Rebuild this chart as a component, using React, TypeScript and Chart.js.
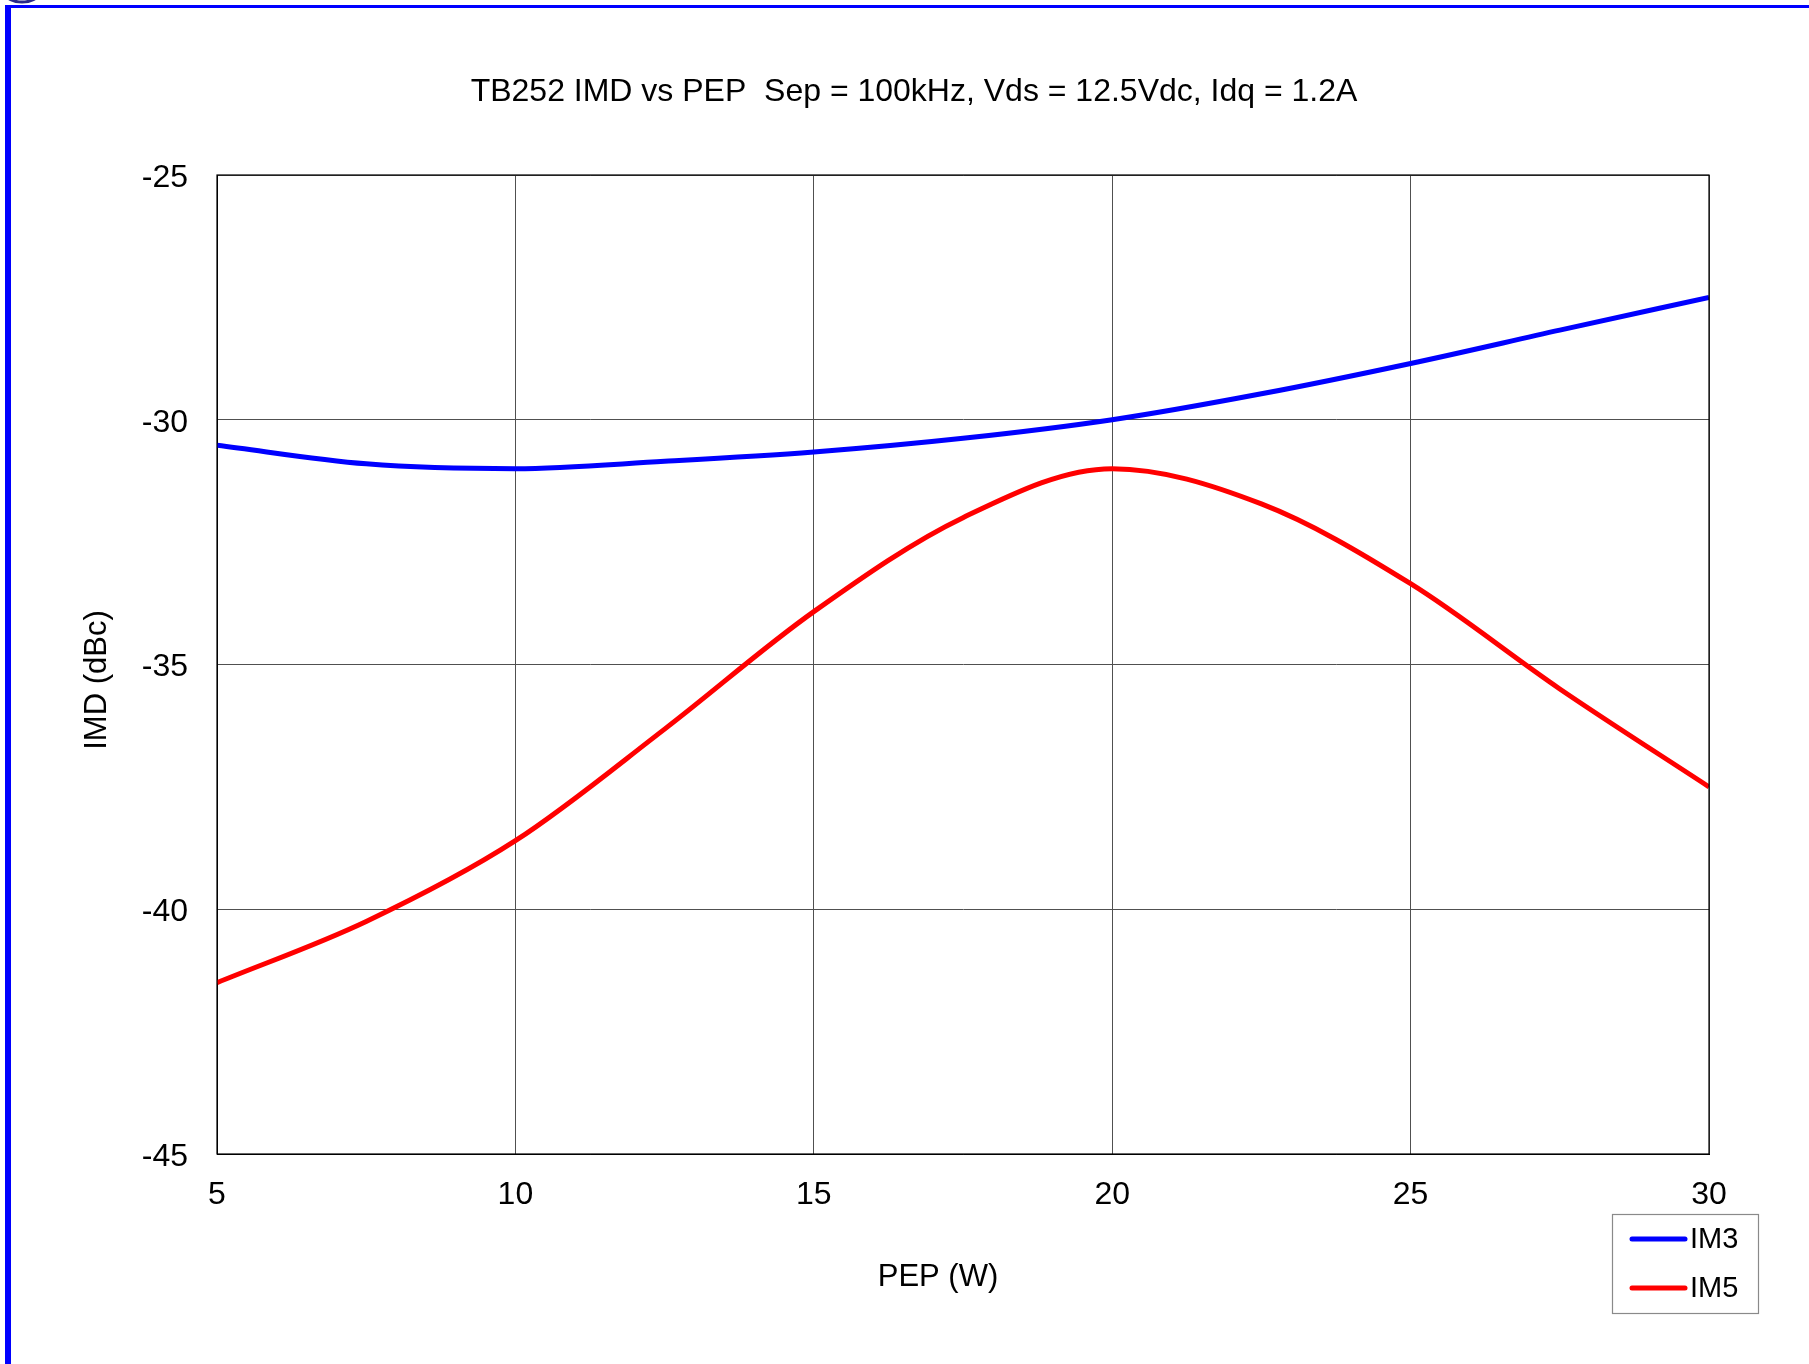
import React, { useEffect, useRef } from "react";
import { Chart, registerables } from "chart.js";

Chart.register(...registerables);

const TITLE = "TB252 IMD vs PEP  Sep = 100kHz, Vds = 12.5Vdc, Idq = 1.2A";
const X_TITLE = "PEP (W)";
const Y_TITLE = "IMD (dBc)";

const PEP = [5, 7.5, 10, 12.5, 15, 17.5, 20, 22.5, 25, 27.5, 30];
const IM3 = [-30.52, -30.9, -31.0, -30.85, -30.66, -30.38, -30.0, -29.47, -28.85, -28.17, -27.5];
const IM5 = [-41.5, -40.25, -38.6, -36.32, -33.92, -32.0, -31.0, -31.72, -33.35, -35.5, -37.5];

const SERIES_NAMES = ["IM3", "IM5"];
const SERIES_COLORS = ["#0000FF", "#FF0000"];

const X_MIN = 5;
const X_MAX = 30;
const X_STEP = 5;
const Y_MIN = -45;
const Y_MAX = -25;
const Y_STEP = 5;

const FONT = "'Liberation Sans', Arial, sans-serif";

const decorPlugin = {
  id: "decor",
  beforeDraw(chart: any) {
    const { ctx, width, height } = chart;
    ctx.save();
    ctx.fillStyle = "#ffffff";
    ctx.fillRect(0, 0, width, height);
    ctx.fillStyle = "#0000FF";
    ctx.fillRect(5, 5, width - 5, 3);
    ctx.fillRect(5, 5, 6, height - 5);
    ctx.strokeStyle = "#2a2a8a";
    ctx.lineWidth = 3;
    ctx.beginPath();
    ctx.ellipse(22, -6, 16, 8, 0, 0, Math.PI);
    ctx.stroke();
    ctx.restore();
  },
  afterDraw(chart: any) {
    const { ctx, chartArea } = chart;
    ctx.save();
    ctx.fillStyle = "#000";
    ctx.textAlign = "center";
    ctx.textBaseline = "middle";
    ctx.font = `32px ${FONT}`;
    ctx.fillText(TITLE, 914, 92);
    ctx.font = `31px ${FONT}`;
    ctx.fillText(X_TITLE, 938, 1277);
    ctx.save();
    ctx.translate(97, 680);
    ctx.rotate(-Math.PI / 2);
    ctx.fillText(Y_TITLE, 0, 0);
    ctx.restore();

    ctx.strokeStyle = "#000";
    ctx.lineWidth = 1.2;
    ctx.strokeRect(chartArea.left, chartArea.top, chartArea.right - chartArea.left, chartArea.bottom - chartArea.top);

    const bx = 1612, by = 1214, bw = 146, bh = 99;
    ctx.strokeStyle = "#8a8a8a";
    ctx.lineWidth = 1.2;
    ctx.strokeRect(bx + 0.5, by + 0.5, bw, bh);
    chart.data.datasets.forEach((ds: any, i: number) => {
      const yy = 1239 + i * 49;
      ctx.strokeStyle = ds.borderColor;
      ctx.lineWidth = 5;
      ctx.lineCap = "round";
      ctx.beginPath();
      ctx.moveTo(1632, yy);
      ctx.lineTo(1685, yy);
      ctx.stroke();
      ctx.fillStyle = "#000";
      ctx.font = `29px ${FONT}`;
      ctx.textAlign = "left";
      ctx.textBaseline = "middle";
      ctx.fillText(ds.label, 1690, yy + 1);
    });
    ctx.restore();
  },
};

export default function App() {
  const ref = useRef<HTMLCanvasElement | null>(null);

  useEffect(() => {
    if (!ref.current) return;
    const datasets = [IM3, IM5].map((vals, i) => ({
      label: SERIES_NAMES[i],
      data: PEP.map((x, j) => ({ x, y: vals[j] })),
      borderColor: SERIES_COLORS[i],
      backgroundColor: SERIES_COLORS[i],
      borderWidth: 5,
      pointRadius: 0,
      cubicInterpolationMode: "monotone" as const,
      fill: false,
    }));
    const chart = new Chart(ref.current, {
      type: "line",
      data: { datasets },
      plugins: [decorPlugin],
      options: {
        animation: false,
        responsive: false,
        devicePixelRatio: 1,
        layout: { padding: { left: 0, top: 175, right: 100, bottom: 110 } },
        plugins: {
          legend: { display: false },
          title: { display: false },
          tooltip: { enabled: false },
        },
        scales: {
          x: {
            type: "linear",
            min: X_MIN,
            max: X_MAX,
            afterFit: (s: any) => {
              s.height = 100;
            },
            ticks: {
              stepSize: X_STEP,
              color: "#000",
              font: { family: FONT, size: 32 },
              padding: 22,
              maxRotation: 0,
            },
            grid: {
              color: "#505050",
              lineWidth: 1,
              drawTicks: false,
            },
            border: { display: true, color: "#000", width: 1 },
          },
          y: {
            type: "linear",
            min: Y_MIN,
            max: Y_MAX,
            afterFit: (s: any) => {
              s.width = 217;
            },
            ticks: {
              stepSize: Y_STEP,
              color: "#000",
              font: { family: FONT, size: 32 },
              padding: 29,
              labelOffset: 3,
            },
            grid: {
              color: "#505050",
              lineWidth: 1,
              drawTicks: false,
            },
            border: { display: true, color: "#000", width: 1 },
          },
        },
      },
    });
    return () => chart.destroy();
  }, []);

  return (
    <div style={{ position: "fixed", left: 0, top: 0, width: 1809, height: 1364, background: "#fff" }}>
      <canvas ref={ref} width={1809} height={1364} style={{ display: "block" }} />
    </div>
  );
}
